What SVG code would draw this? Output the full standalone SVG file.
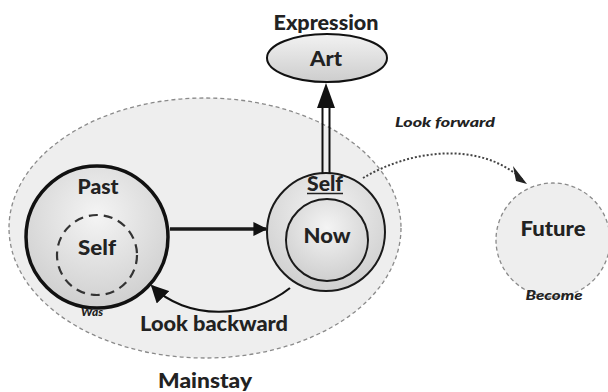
<svg xmlns="http://www.w3.org/2000/svg" width="608" height="392" viewBox="0 0 608 392">
<defs>
<radialGradient id="g1" cx="0.5" cy="0.35" r="0.65">
<stop offset="0" stop-color="#f4f4f4"/><stop offset="1" stop-color="#cfcfcf"/>
</radialGradient>
<linearGradient id="g2" x1="0" y1="0" x2="0" y2="1">
<stop offset="0" stop-color="#f2f2f2"/><stop offset="1" stop-color="#cdcdcd"/>
</linearGradient>
<marker id="ah" viewBox="0 0 10 10" refX="9" refY="5" markerWidth="4" markerHeight="4" orient="auto" markerUnits="strokeWidth">
<path d="M0,0 L10,5 L0,10 z" fill="#111"/>
</marker>
<marker id="ah2" viewBox="0 0 10 10" refX="9" refY="5" markerWidth="8" markerHeight="8" orient="auto" markerUnits="strokeWidth">
<path d="M0,0 L10,5 L0,10 z" fill="#111"/>
</marker>
</defs>
<style>
.t{font-family:Lato,"Open Sans","Liberation Sans",sans-serif;font-weight:900;fill:#222;text-anchor:middle;dominant-baseline:central}
.big{font-size:21px}
.sm{font-size:13px;font-style:italic}
.solid{stroke:#1a1a1a;fill:none}
</style>
<g id="mainstay">
<ellipse cx="205" cy="228" rx="196" ry="130" fill="#eeeeee" stroke="#8a8a8a" stroke-width="1.3" stroke-dasharray="4,3"/>
<text class="t big" x="205" y="379" textLength="94" lengthAdjust="spacingAndGlyphs">Mainstay</text>
</g>
<g id="past">
<circle cx="97" cy="237" r="71" fill="url(#g1)" stroke="#111" stroke-width="3.5"/>
<circle cx="97" cy="255" r="40" fill="none" stroke="#333" stroke-width="2.2" stroke-dasharray="9,6"/>
<text class="t big" x="98" y="185" textLength="41" lengthAdjust="spacingAndGlyphs">Past</text>
<text class="t big" x="97" y="246" textLength="38" lengthAdjust="spacingAndGlyphs">Self</text>
<text class="t sm" x="92" y="311" style="font-size:11px" textLength="22" lengthAdjust="spacingAndGlyphs">Was</text>
</g>
<g id="now">
<circle cx="326" cy="232" r="59" fill="url(#g1)" stroke="#1a1a1a" stroke-width="2"/>
<circle cx="327" cy="240" r="41" fill="url(#g1)" stroke="#1a1a1a" stroke-width="2"/>
<text class="t big" x="325" y="182" textLength="36" lengthAdjust="spacingAndGlyphs">Self</text>
<line x1="307" y1="193.5" x2="343" y2="193.5" stroke="#222" stroke-width="1.5"/>
<text class="t big" x="327" y="234" textLength="47" lengthAdjust="spacingAndGlyphs">Now</text>
</g>
<g id="art">
<ellipse cx="327" cy="58" rx="60" ry="24" fill="url(#g2)" stroke="#111" stroke-width="2"/>
<text class="t big" x="326" y="21" textLength="105" lengthAdjust="spacingAndGlyphs">Expression</text>
<text class="t big" x="326" y="57" textLength="32" lengthAdjust="spacingAndGlyphs">Art</text>
</g>
<g id="future">
<circle cx="553" cy="240" r="57" fill="#eeeeee" stroke="#8a8a8a" stroke-width="1.3" stroke-dasharray="4,3"/>
<text class="t big" x="553" y="227" textLength="65" lengthAdjust="spacingAndGlyphs">Future</text>
<text class="t sm" x="554" y="295" textLength="57" lengthAdjust="spacingAndGlyphs">Become</text>
</g>
<g id="connectors">
<line class="solid" x1="170" y1="229" x2="266" y2="229" stroke-width="3.5" marker-end="url(#ah)"/>
<line x1="322.5" y1="174" x2="322.5" y2="105" stroke="#111" stroke-width="2"/>
<line x1="329.5" y1="174" x2="329.5" y2="105" stroke="#111" stroke-width="2"/>
<path d="M317,108 L326,83 L335,108 z" fill="#111"/>
<path d="M363,178 C410,150 480,140 523,180" fill="none" stroke="#444" stroke-width="2" stroke-dasharray="2,2"/>
<path d="M513,166 L527,184 L516,181 z" fill="#222"/>
<path d="M290,288 C250,320 185,320 152,286" fill="none" stroke="#111" stroke-width="2.2" marker-end="url(#ah2)"/>
<text class="t sm" x="445" y="122" textLength="100" lengthAdjust="spacingAndGlyphs">Look forward</text>
<text class="t big" x="214" y="322" textLength="148" lengthAdjust="spacingAndGlyphs">Look backward</text>
</g>
</svg>
